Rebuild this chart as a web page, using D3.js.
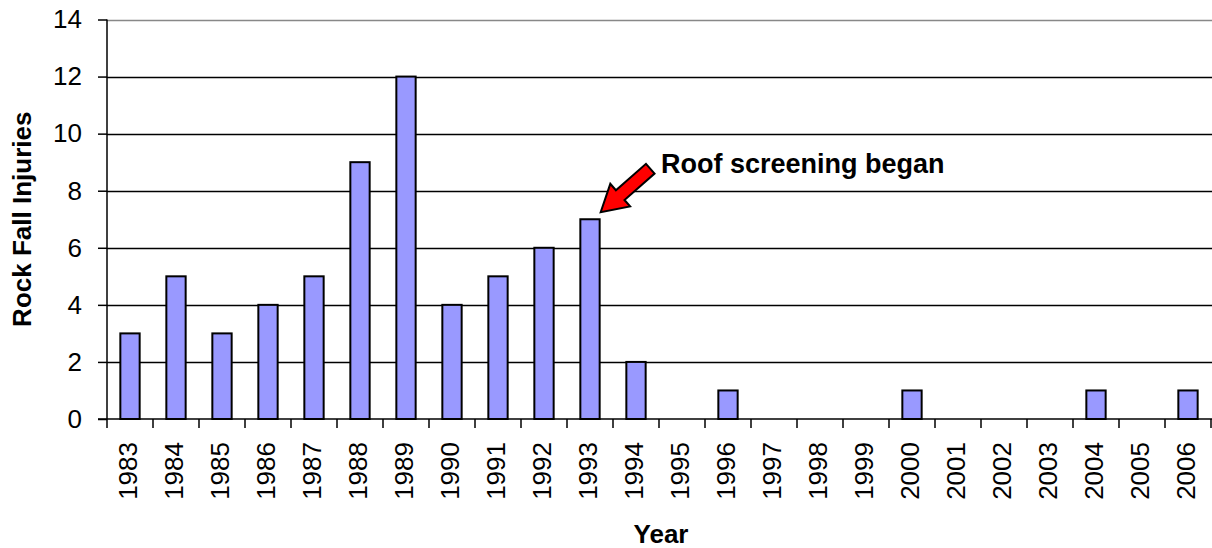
<!DOCTYPE html>
<html>
<head>
<meta charset="utf-8">
<script src="https://cdn.jsdelivr.net/npm/d3@7"></script>
<style>
  body { margin: 0; background: #fff; }
  svg text { font-family: "Liberation Sans", Arial, sans-serif; }
</style>
</head>
<body>
<svg id="chart"></svg>
<script>
var years = ["1983", "1984", "1985", "1986", "1987", "1988", "1989", "1990", "1991", "1992", "1993", "1994",
    "1995", "1996", "1997", "1998", "1999", "2000", "2001", "2002", "2003", "2004", "2005", "2006"];
var injuries = [3, 5, 3, 4, 5, 9, 12, 4, 5, 6, 7, 2, 0, 1, 0, 0, 0, 1, 0, 0, 0, 1, 0, 1];
var yTicks = [0, 2, 4, 6, 8, 10, 12, 14];
var noteYear = "1993";
var noteText = "Roof screening began";

var width = 1212, height = 548;
var margin = {top: 19.5, right: 1, bottom: 129, left: 107};
var fontSize = 26;

var data = years.map((y, i) => ({year: y, value: injuries[i]}));

var svg = d3.select("#chart")
    .attr("width", width)
    .attr("height", height);

var x = d3.scaleBand()
    .domain(years)
    .range([margin.left, width - margin.right])
    .paddingInner(0.58)
    .paddingOuter(0.29);

var y = d3.scaleLinear()
    .domain([0, 14])
    .range([height - margin.bottom, margin.top]);

// gridlines
svg.append("g")
    .selectAll("line")
    .data(yTicks.filter(d => d > 0))
    .enter()
    .append("line")
        .attr("x1", margin.left)
        .attr("x2", width)
        .attr("y1", d => Math.round(y(d)) + 0.5)
        .attr("y2", d => Math.round(y(d)) + 0.5)
        .attr("stroke", d => d === 14 ? "#888" : "#000")
        .attr("stroke-width", 1.5);

// bars
svg.append("g")
    .selectAll("rect")
    .data(data.filter(d => d.value > 0))
    .enter()
    .append("rect")
        .attr("x", d => x(d.year))
        .attr("y", d => y(d.value))
        .attr("width", x.bandwidth())
        .attr("height", d => y(0) - y(d.value))
        .attr("fill", "#9999ff")
        .attr("stroke", "#000")
        .attr("stroke-width", 2);

// y axis
var yAxis = svg.append("g")
    .attr("transform", `translate(${margin.left},0)`)
    .call(d3.axisLeft(y).tickValues(yTicks).tickSize(9).tickPadding(16).tickFormat(d3.format("d")));
yAxis.select(".domain").attr("stroke", "#000").attr("stroke-width", 1.5)
    .attr("d", `M0,${y(0)}V${y(14)}`);
yAxis.selectAll(".tick line").attr("stroke-width", 1.5);
yAxis.selectAll("text")
    .attr("font-size", fontSize)
    .attr("fill", "#000")
    .attr("font-family", "Liberation Sans, Arial, sans-serif");

// x axis: ticks on category boundaries
var bounds = years.map(d => x(d) - x.step() * x.paddingInner() / 2);
bounds.push(width - margin.right);
var xg = svg.append("g");
xg.append("line")
    .attr("x1", margin.left - 9).attr("x2", width)
    .attr("y1", y(0)).attr("y2", y(0))
    .attr("stroke", "#000").attr("stroke-width", 1.5);
xg.selectAll("line.tk")
    .data(bounds)
    .enter()
    .append("line")
        .attr("class", "tk")
        .attr("x1", d => d).attr("x2", d => d)
        .attr("y1", y(0)).attr("y2", y(0) + 9)
        .attr("stroke", "#000").attr("stroke-width", 1.5);
xg.selectAll("text")
    .data(years)
    .enter()
    .append("text")
        .attr("transform", d => `translate(${x(d) + x.bandwidth() / 2 + 7},${y(0) + 23}) rotate(-90)`)
        .attr("text-anchor", "end")
        .attr("font-size", fontSize)
        .text(d => d);

// axis titles
svg.append("text")
    .attr("x", 661)
    .attr("y", 543)
    .attr("text-anchor", "middle")
    .attr("font-size", fontSize)
    .attr("font-weight", "bold")
    .text("Year");

svg.append("text")
    .attr("transform", `translate(31,${(y(0) + y(14)) / 2}) rotate(-90)`)
    .attr("text-anchor", "middle")
    .attr("font-size", fontSize)
    .attr("font-weight", "bold")
    .text("Rock Fall Injuries");

// annotation arrow
var tipX = x(noteYear) + x.bandwidth() + 1,
    tipY = y(injuries[years.indexOf(noteYear)]) - 7;
var ang = Math.atan2(-43, 49);
var len = 66, head = 26, hw = 15, sw = 6.5;
var pts = [[0, 0], [head, -hw], [head, -sw], [len, -sw], [len, sw], [head, sw], [head, hw]];
svg.append("polygon")
    .attr("points", pts.map(p => p.join(",")).join(" "))
    .attr("transform", `translate(${tipX},${tipY}) rotate(${ang * 180 / Math.PI})`)
    .attr("fill", "#ff0000")
    .attr("stroke", "#000")
    .attr("stroke-width", 2)
    .attr("stroke-linejoin", "miter");

svg.append("text")
    .attr("x", 661)
    .attr("y", 173)
    .attr("font-size", 27)
    .attr("font-weight", "bold")
    .text(noteText);
</script>
</body>
</html>
